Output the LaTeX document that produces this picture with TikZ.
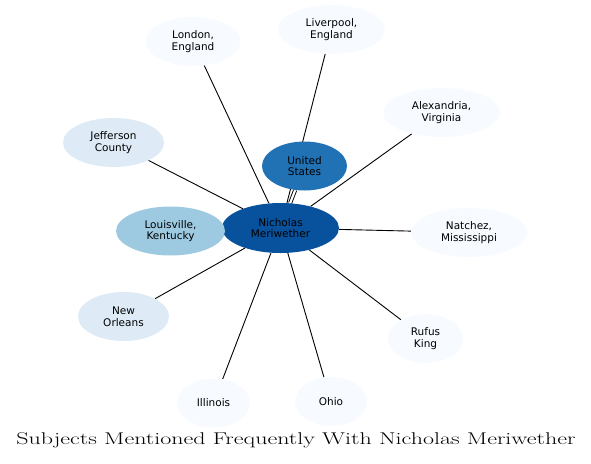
\documentclass[tikz,border=0pt]{standalone}
\usepackage{fontspec}
\usepackage{tikz}
\usetikzlibrary{shapes.geometric, backgrounds}
\newfontfamily\labelfont{DejaVu Sans}
\definecolor{shade0}{HTML}{F7FBFF}
\definecolor{shade1}{HTML}{DEEBF7}
\definecolor{shade2}{HTML}{9ECAE1}
\definecolor{shade3}{HTML}{2171B5}
\definecolor{shade4}{HTML}{08519C}

\begin{document}
\begin{tikzpicture}[
  x=1pt, y=-1pt,
  subj/.style={ellipse, inner sep=0pt, minimum height=49pt, align=center,
               font={\labelfont\fontsize{10.5}{11.7}\selectfont},
               fill=shade0},
  rare/.style={subj, fill=shade0},
  some/.style={subj, fill=shade1},
  often/.style={subj, fill=shade2},
  most/.style={subj, fill=shade3},
  hub/.style={subj, fill=shade4, minimum height=50pt},
  link/.style={draw=black, line width=0.9pt}
]
\useasboundingbox (0,0) rectangle (591,463);
\node[hub, minimum width=117pt]  (meri) at (280.5,228) {Nicholas\\Meriwether};
\node[most, minimum width=85pt]  (usa) at (304.5,166) {United\\States};
\node[often, minimum width=109pt] (louis) at (170.5,231) {Louisville,\\Kentucky};
\node[some, minimum width=101pt] (jeff) at (113.5,142.5) {Jefferson\\County};
\node[some, minimum width=91pt]  (orleans) at (123.5,316.5) {New\\Orleans};
\node[rare, minimum width=95pt]  (london) at (193,41.5) {London,\\England};
\node[rare, minimum width=107pt] (liver) at (331.5,29.5) {Liverpool,\\England};
\node[rare, minimum width=117pt] (alex) at (441.5,112.5) {Alexandria,\\Virginia};
\node[rare, minimum width=116pt] (natchez) at (469,232.5) {Natchez,\\Mississippi};
\node[rare, minimum width=75pt]  (rufus) at (425.5,338.5) {Rufus\\King};
\node[rare, minimum width=73pt]  (ill) at (213.5,403) {Illinois};
\node[rare, minimum width=72pt]  (ohio) at (331,401.5) {Ohio};
\node[anchor=base, font=\fontsize{17}{20}\selectfont] (title) at (296,444)
    {\scalebox{1.41}[1]{Subjects Mentioned Frequently With Nicholas Meriwether}};
\begin{scope}[on background layer]
\draw[link] (meri) -- (london);
\draw[link] (meri) -- (liver);
\draw[link] (meri) -- (alex);
\draw[link] (meri) -- (jeff);
\draw[link, double, double distance=2.2pt] (meri) -- (usa);
\draw[link] (meri) -- (louis);
\draw[link] (meri) -- (natchez);
\draw[link] (meri) -- (orleans);
\draw[link] (meri) -- (rufus);
\draw[link] (meri) -- (ill);
\draw[link] (meri) -- (ohio);
\end{scope}
\end{tikzpicture}
\end{document}
